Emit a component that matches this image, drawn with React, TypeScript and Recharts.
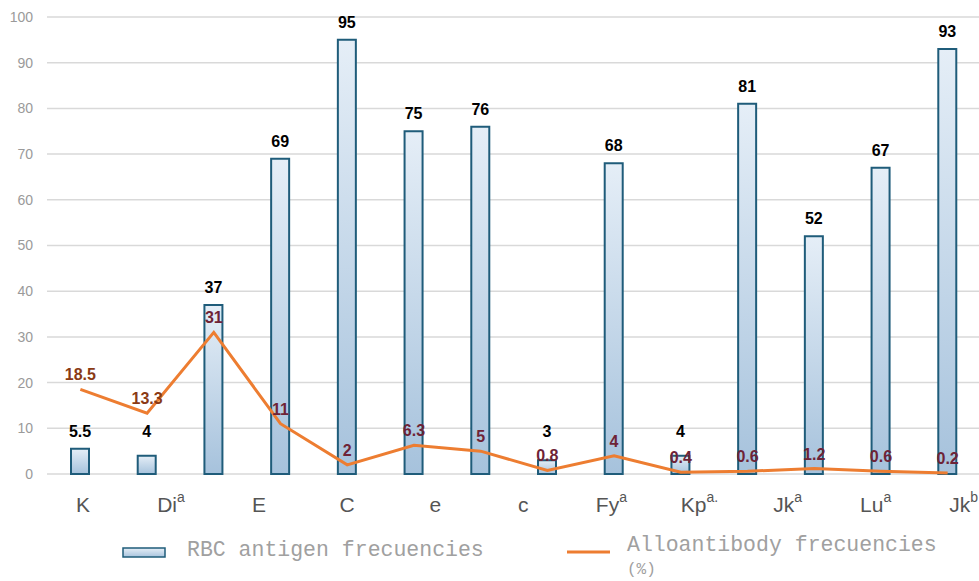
import React from "react";
import {
  ComposedChart, Bar, Line, XAxis, YAxis, CartesianGrid, LabelList, Legend
} from "recharts";

// values, one per bar slot
const antigenFreq = [5.5, 4, 37, 69, 95, 75, 76, 3, 68, 4, 81, 52, 67, 93];
const alloFreq = [18.5, 13.3, 31, 11, 2, 6.3, 5, 0.8, 4, 0.4, 0.6, 1.2, 0.6, 0.2];

// axis labels (base text + superscript) - spread evenly, not aligned with bars
const tickBase = ["K", "Di", "E", "C", "e", "c", "Fy", "Kp", "Jk", "Lu", "Jk"];
const tickSup = ["", "a", "", "", "", "", "a", "a.", "a", "a", "b"];
const yTicks = [0, 10, 20, 30, 40, 50, 60, 70, 80, 90, 100];

const legendBar = "RBC antigen frecuencies";
const legendLine = ["Alloantibody frecuencies", "(%)"];

const data = antigenFreq.map((v, i) => ({ slot: i, antigen: v, allo: alloFreq[i] }));
const labelTicks = tickBase.map((_, i) => 0.5 + i * 1.226);

const FONT = "'Liberation Sans', Arial, sans-serif";
const MONO = "'Liberation Mono', 'Courier New', monospace";

const AxisTick = (props: any) => {
  const { x, y, payload } = props;
  const i = labelTicks.indexOf(payload.value);
  if (i < 0) return null;
  return (
    <text x={x} y={y + 8} textAnchor="middle" fontFamily={FONT} fontSize={21} fill="#555">
      {tickBase[i]}
      {tickSup[i] && <tspan dy={-10} fontSize={14}>{tickSup[i]}</tspan>}
    </text>
  );
};

// short bars keep their label on a common line, like the original
const BarLabel = (props: any) => {
  const { x, y, width, value } = props;
  const ty = Math.min(y - 12, 437);
  return (
    <text x={x + width / 2} y={ty} textAnchor="middle" fontFamily={FONT} fontSize={16}
      fontWeight="bold" fill="#000">
      {value}
    </text>
  );
};

const LineLabel = (props: any) => {
  const { x, y, value, index } = props;
  return (
    <text x={x} y={y - 9} textAnchor="middle" fontFamily={FONT} fontSize={16}
      fontWeight="bold" fill={index < 2 ? "#8a3a14" : "#6e2336"}>
      {value}
    </text>
  );
};

const renderLegend = () => (
  <svg width={979} height={46} style={{ display: "block" }}>
    <defs>
      <linearGradient id="legGrad" x1="0" y1="0" x2="0" y2="1">
        <stop offset="0%" stopColor="#e5eef7" />
        <stop offset="100%" stopColor="#a9c4dd" />
      </linearGradient>
    </defs>
    <rect x={123} y={13} width={42} height={9} fill="url(#legGrad)" stroke="#1f5c7a" strokeWidth={1.5} />
    <text x={187} y={21} fontFamily={MONO} fontSize={21.5} fill="#a0a0a0">{legendBar}</text>
    <line x1={567} y1={17} x2={610} y2={17} stroke="#ed7d31" strokeWidth={3} />
    <text x={627} y={16} fontFamily={MONO} fontSize={21.5} fill="#a0a0a0">{legendLine[0]}</text>
    <text x={627} y={39} fontFamily={MONO} fontSize={16} fill="#a0a0a0">{legendLine[1]}</text>
  </svg>
);

const App: React.FC = () => {
  return (
    <div style={{ position: "fixed", left: 0, top: 0, width: 979, height: 581, overflow: "hidden", background: "#fff" }}>
      <ComposedChart width={990} height={581} data={data} margin={{ top: 17, right: 9, left: 0, bottom: 0 }}>
        <defs>
          <linearGradient id="barGrad" x1="0" y1="0" x2="0" y2="1">
            <stop offset="0%" stopColor="#e5eef7" />
            <stop offset="100%" stopColor="#a6c2dc" />
          </linearGradient>
        </defs>
        <CartesianGrid xAxisId="bars" vertical={false} stroke="#d9d9d9" strokeWidth={1.5} />
        <XAxis xAxisId="bars" dataKey="slot" type="category" hide />
        <XAxis
          xAxisId="labels" type="number" domain={[0, 13]} allowDataOverflow ticks={labelTicks} interval={0}
          axisLine={false} tickLine={false} tickSize={0} tickMargin={0} height={61} tick={AxisTick}
        />
        <YAxis
          domain={[0, 100]} ticks={yTicks} axisLine={false} tickLine={false} tickSize={0} tickMargin={14}
          width={47} tick={{ fontSize: 14, fill: "#9a9a9a", fontFamily: FONT }}
        />
        <Bar xAxisId="bars" dataKey="antigen" barSize={18} fill="url(#barGrad)" stroke="#1f5c7a"
          strokeWidth={2} isAnimationActive={false}>
          <LabelList dataKey="antigen" content={BarLabel} />
        </Bar>
        <Line xAxisId="bars" type="linear" dataKey="allo" stroke="#ed7d31" strokeWidth={3}
          dot={false} activeDot={false} isAnimationActive={false}>
          <LabelList dataKey="allo" content={LineLabel} />
        </Line>
        <Legend verticalAlign="bottom" content={renderLegend}
          wrapperStyle={{ left: 0, bottom: 0, width: 979, height: 46 }} />
      </ComposedChart>
    </div>
  );
};

export default App;
